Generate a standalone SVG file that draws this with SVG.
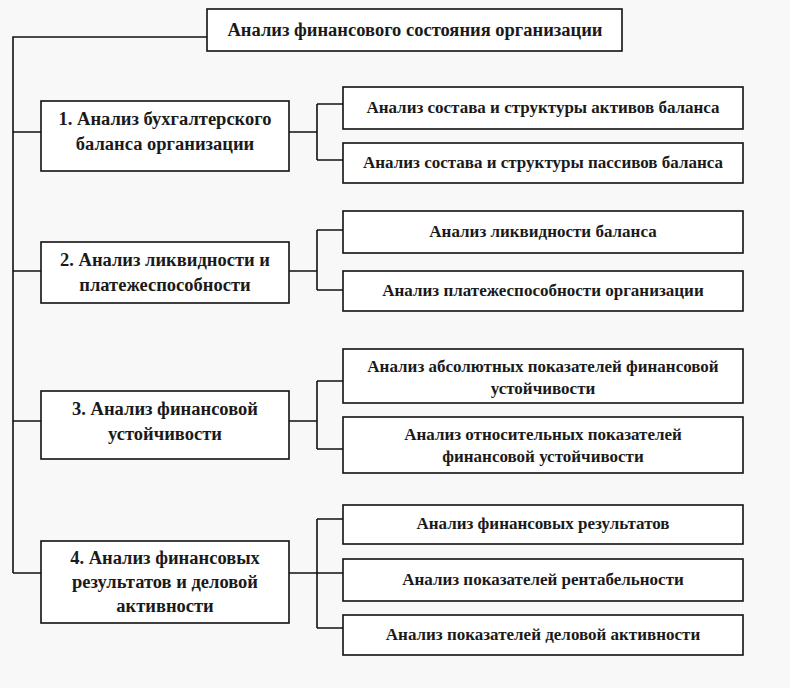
<svg xmlns="http://www.w3.org/2000/svg" width="790" height="688" viewBox="0 0 790 688">
<style>
.bg{fill:#f8f8f8}
.box{fill:#ffffff;stroke:#111;stroke-width:1.6}
.ln{fill:none;stroke:#111;stroke-width:1.6}
text{font-family:"Liberation Serif","Times New Roman",serif;fill:#1a1a1a;text-anchor:middle;font-weight:bold}
.t{font-size:18.5px}
.m{font-size:18.5px}
.c{font-size:17px}
</style>
<rect class="bg" x="0" y="0" width="790" height="688"/>
<g id="connectors">
<path class="ln" d="M207 37 H13 V573"/>
<path class="ln" d="M13 132 H41 M13 271 H41 M13 421 H41 M13 573 H41"/>
<path class="ln" d="M289 132 H317 M317 104 V160 M317 104 H343 M317 160 H343"/>
<path class="ln" d="M289 271 H317 M317 230 V290 M317 230 H343 M317 290 H343"/>
<path class="ln" d="M289 421 H317 M317 381 V449 M317 381 H343 M317 449 H343"/>
<path class="ln" d="M289 573 H317 M317 519 V628 M317 519 H343 M317 573 H343 M317 628 H343"/>
</g>
<g id="root"><rect class="box" x="207" y="9" width="415" height="42"/><text class="t" x="415" y="36">Анализ финансового состояния организации</text></g>
<g id="n1"><rect class="box" x="41" y="101" width="248" height="70"/><text class="m" x="165" y="125">1. Анализ бухгалтерского</text><text class="m" x="165" y="150">баланса организации</text></g>
<g id="n2"><rect class="box" x="41" y="242" width="248" height="61"/><text class="m" x="165" y="266">2. Анализ ликвидности и</text><text class="m" x="165" y="291">платежеспособности</text></g>
<g id="n3"><rect class="box" x="41" y="391" width="248" height="68"/><text class="m" x="165" y="415">3. Анализ финансовой</text><text class="m" x="165" y="440">устойчивости</text></g>
<g id="n4"><rect class="box" x="41" y="541" width="248" height="82"/><text class="m" x="165" y="564">4. Анализ финансовых</text><text class="m" x="165" y="588">результатов и деловой</text><text class="m" x="165" y="612">активности</text></g>
<g id="c1"><rect class="box" x="343" y="87" width="400" height="42"/><text class="c" x="543" y="113">Анализ состава и структуры активов баланса</text></g>
<g id="c2"><rect class="box" x="343" y="143" width="400" height="40"/><text class="c" x="543" y="168">Анализ состава и структуры пассивов баланса</text></g>
<g id="c3"><rect class="box" x="343" y="211" width="400" height="42"/><text class="c" x="543" y="237">Анализ ликвидности баланса</text></g>
<g id="c4"><rect class="box" x="343" y="271" width="400" height="40"/><text class="c" x="543" y="296">Анализ платежеспособности организации</text></g>
<g id="c5"><rect class="box" x="343" y="349" width="400" height="54"/><text class="c" x="543" y="372">Анализ абсолютных показателей финансовой</text><text class="c" x="543" y="394">устойчивости</text></g>
<g id="c6"><rect class="box" x="343" y="417" width="400" height="56"/><text class="c" x="543" y="440">Анализ относительных показателей</text><text class="c" x="543" y="462">финансовой устойчивости</text></g>
<g id="c7"><rect class="box" x="343" y="505" width="400" height="39"/><text class="c" x="543" y="529">Анализ финансовых результатов</text></g>
<g id="c8"><rect class="box" x="343" y="559" width="400" height="42"/><text class="c" x="543" y="585">Анализ показателей рентабельности</text></g>
<g id="c9"><rect class="box" x="343" y="615" width="400" height="40"/><text class="c" x="543" y="640">Анализ показателей деловой активности</text></g>
</svg>
